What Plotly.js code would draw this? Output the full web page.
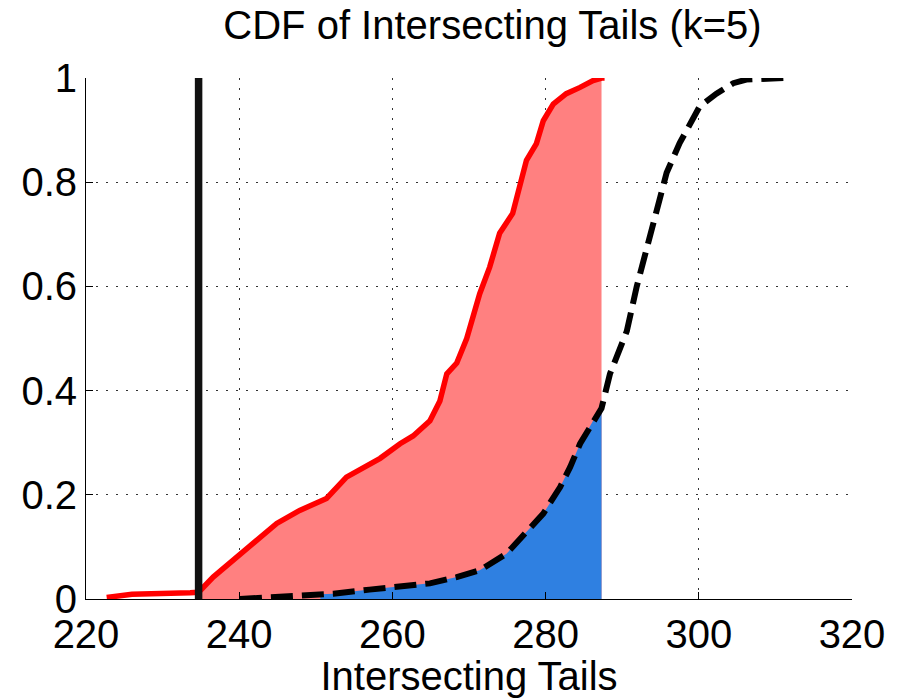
<!DOCTYPE html>
<html>
<head>
<meta charset="utf-8">
<script src="https://cdn.plot.ly/plotly-3.0.1.min.js"></script>
<style>html,body{margin:0;padding:0;background:#fff;}#chart{width:901px;height:698px;}</style>
</head>
<body>
<div id="chart"></div>
<script>
// Red empirical CDF
const redX = [222.7, 226.0, 233.6, 234.7, 236.6, 239.7, 241.8, 244.9, 247.9, 251.4, 254.0, 256.6, 258.4, 261.0, 262.7, 264.9, 266.2, 267.1, 268.4, 269.7, 271.4, 272.7, 274.0, 275.7, 276.6, 277.5, 278.8, 279.7, 281.0, 282.7, 284.5, 286.2, 287.3, 287.7];
const redY = [0.003, 0.009, 0.012, 0.013, 0.042, 0.080, 0.107, 0.145, 0.170, 0.193, 0.234, 0.256, 0.270, 0.298, 0.313, 0.342, 0.380, 0.432, 0.453, 0.500, 0.586, 0.637, 0.702, 0.740, 0.790, 0.842, 0.874, 0.918, 0.950, 0.970, 0.982, 0.995, 1.000, 1.000];
// Black dashed CDF
const blackX = [240.1, 243.6, 247.5, 250.6, 252.3, 257.0, 260.6, 264.9, 268.4, 271.4, 274.9, 277.1, 279.7, 281.9, 283.2, 284.5, 286.2, 287.3, 288.4, 289.7, 290.6, 291.9, 293.6, 294.7, 295.8, 297.5, 300.1, 302.3, 304.5, 306.2, 311.2];
const blackY = [0.000, 0.003, 0.007, 0.009, 0.010, 0.018, 0.023, 0.030, 0.042, 0.055, 0.087, 0.122, 0.164, 0.215, 0.253, 0.298, 0.342, 0.366, 0.432, 0.482, 0.514, 0.600, 0.697, 0.760, 0.818, 0.875, 0.945, 0.970, 0.990, 0.997, 1.000];
// Vertical threshold line and shaded ranges
const threshold = 234.7;
const cutoff = 287.3;
const blueStart = 250.6;
// Axis ticks
const xTicks = [220, 240, 260, 280, 300, 320];
const yTicks = [0, 0.2, 0.4, 0.6, 0.8, 1];
const yTickText = ['0', '0.2', '0.4', '0.6', '0.8', '1'];

function sub(xs, ys, lo, hi) {
  const ox = [], oy = [];
  xs.forEach((x, i) => { if (x >= lo && x <= hi) { ox.push(x); oy.push(ys[i]); } });
  return {x: ox, y: oy};
}
const redFill = sub(redX, redY, threshold, cutoff);
const blueFill = sub(blackX, blackY, blueStart, cutoff);

const traces = [
  {x: redFill.x, y: redFill.y, type: 'scatter', mode: 'lines', fill: 'tozeroy',
   fillcolor: 'rgb(255,128,128)', line: {width: 0, color: 'rgba(0,0,0,0)'}, hoverinfo: 'skip'},
  {x: blueFill.x, y: blueFill.y, type: 'scatter', mode: 'lines', fill: 'tozeroy',
   fillcolor: 'rgb(47,128,225)', line: {width: 0, color: 'rgba(0,0,0,0)'}, hoverinfo: 'skip'},
  {x: redX, y: redY, type: 'scatter', mode: 'lines', line: {color: 'rgb(255,0,0)', width: 5.5}},
  {x: blackX, y: blackY, type: 'scatter', mode: 'lines', line: {color: '#000', width: 6, dash: '22px,9px'}},
  {x: [threshold, threshold], y: [0, 1], type: 'scatter', mode: 'lines', line: {color: '#111', width: 7.5}}
];

const gridDash = '1.5px,8.5px';
const layout = {
  width: 901, height: 698,
  margin: {l: 86, r: 48.5, t: 77.7, b: 99, pad: 0},
  paper_bgcolor: '#fff', plot_bgcolor: '#fff',
  showlegend: false,
  font: {family: 'Liberation Sans, Arial, sans-serif', size: 40, color: '#000'},
  title: {text: 'CDF of Intersecting Tails (k=5)', x: 492.5 / 901, xanchor: 'center', xref: 'container',
          y: 1 - 25 / 698, yanchor: 'middle', yref: 'container', font: {size: 40, color: '#000'}},
  xaxis: {range: [220, 320], tickmode: 'array', tickvals: xTicks, ticks: 'inside', ticklen: 7,
          tickcolor: '#000', showline: true, linecolor: '#000', linewidth: 1, zeroline: false,
          showgrid: true, gridcolor: '#333', gridwidth: 1, griddash: gridDash,
          tickfont: {size: 40}, fixedrange: true,
          title: {text: 'Intersecting Tails', font: {size: 40}, standoff: 0}},
  yaxis: {range: [0, 1], tickmode: 'array', tickvals: yTicks, ticktext: yTickText, ticks: 'inside', ticklen: 7,
          tickcolor: '#000', showline: true, linecolor: '#000', linewidth: 1, zeroline: false,
          showgrid: true, gridcolor: '#333', gridwidth: 1, griddash: gridDash,
          tickfont: {size: 40}, fixedrange: true}
};
Plotly.newPlot('chart', traces, layout, {displayModeBar: false, staticPlot: true});
</script>
</body>
</html>
